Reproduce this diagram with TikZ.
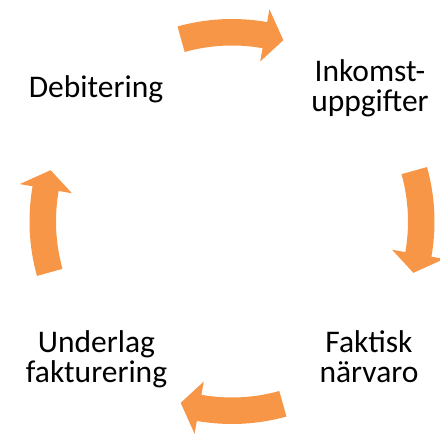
\documentclass[tikz,border=0pt]{standalone}
\usepackage{fontspec}
\setmainfont{Carlito}
\definecolor{arroworange}{HTML}{F79646}
\tikzset{
  lbl/.style={anchor=base, inner sep=0pt, align=center, font=\fontsize{31.5}{30}\selectfont, text=black},
  cyclearrow/.style={fill=arroworange, draw=none}
}
% #1 = base angle (math, y up); arrow runs clockwise
\newcommand{\cyclearrowshape}[2]{%
  \pgfmathsetmacro{\at}{-(#1+15.6)}%
  \pgfmathsetmacro{\ab}{-(#1-10)}%
  \pgfmathsetmacro{\ap}{-(#1-15.8)}%
  \fill[cyclearrow] (C) ++(\at:202.5) coordinate (#2t)
    arc[start angle=\at, end angle=\ab, radius=202.5]
    -- ($(C)+(\ab:215.5)$) -- ($(C)+(\ap:188.5)$) coordinate (#2tip)
    -- ($(C)+(\ab:162.5)$) -- ($(C)+(\ab:176)$)
    arc[start angle=\ab, end angle=\at, radius=176] -- cycle;
}
\usetikzlibrary{calc}
\begin{document}
\begin{tikzpicture}[x=1pt,y=-1pt]
\useasboundingbox (0,0) rectangle (440,435);
\coordinate (C) at (232,221.5);
\cyclearrowshape{90}{top}
\cyclearrowshape{0}{right}
\cyclearrowshape{-90}{bottom}
\cyclearrowshape{180}{left}
\node[lbl] (deb) at (96,97.3) {Debitering};
\node[lbl] (ink) at (370,111.7) {Inkomst-\\uppgifter};
\node[lbl] (fak) at (369,382.3) {Faktisk\\närvaro};
\node[lbl] (und) at (96.5,382.7) {Underlag\\fakturering};
\end{tikzpicture}
\end{document}
